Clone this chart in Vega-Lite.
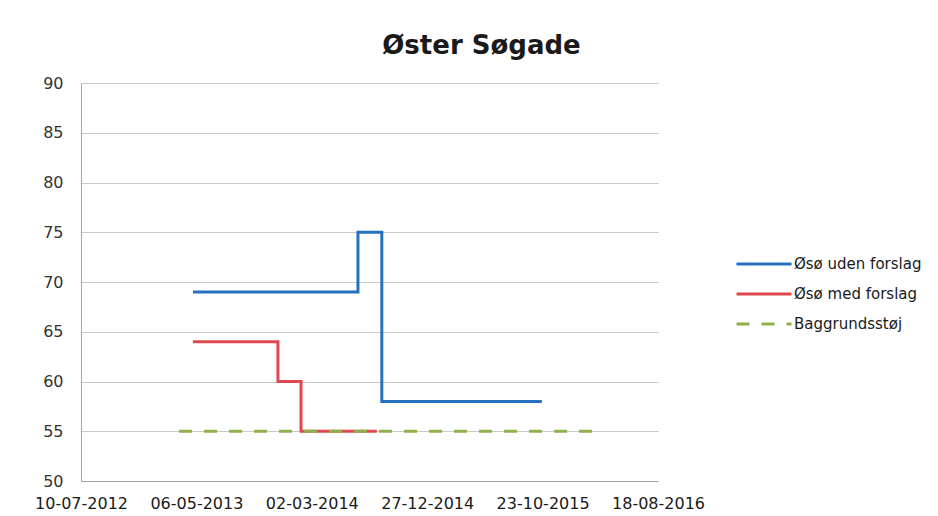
{
  "$schema": "https://vega.github.io/schema/vega-lite/v6.json",
  "autosize": {"type": "none"},
  "width": 577,
  "height": 398,
  "padding": {"left": 81, "top": 83, "right": 280, "bottom": 35},
  "background": "white",
  "title": {
    "text": "Øster Søgade",
    "font": "DejaVu Sans",
    "fontSize": 26,
    "fontWeight": "bold",
    "color": "#1a1a1a",
    "anchor": "middle",
    "dx": 112,
    "baseline": "alphabetic",
    "offset": -5
  },
  "config": {
    "view": {"stroke": null},
    "font": "DejaVu Sans"
  },
  "data": {
    "values": [
      {"series": "Øsø uden forslag", "date": "2013-04-27", "value": 69},
      {"series": "Øsø uden forslag", "date": "2014-06-30", "value": 75},
      {"series": "Øsø uden forslag", "date": "2014-08-31", "value": 58},
      {"series": "Øsø uden forslag", "date": "2015-10-21", "value": 58},
      {"series": "Øsø med forslag", "date": "2013-04-27", "value": 64},
      {"series": "Øsø med forslag", "date": "2013-12-04", "value": 60},
      {"series": "Øsø med forslag", "date": "2014-02-02", "value": 55},
      {"series": "Øsø med forslag", "date": "2014-08-18", "value": 55},
      {"series": "Baggrundsstøj", "date": "2013-03-22", "value": 55},
      {"series": "Baggrundsstøj", "date": "2016-03-02", "value": 55}
    ]
  },
  "mark": {"type": "line", "interpolate": "step-after", "strokeWidth": 3, "clip": true},
  "encoding": {
    "x": {
      "field": "date",
      "type": "temporal",
      "scale": {
        "type": "utc",
        "domain": [
          {"year": 2012, "month": 7, "date": 10, "utc": true},
          {"year": 2016, "month": 8, "date": 18, "utc": true}
        ],
        "nice": false
      },
      "axis": {
        "title": null,
        "values": [
          {"year": 2012, "month": 7, "date": 10, "utc": true},
          {"year": 2013, "month": 5, "date": 6, "utc": true},
          {"year": 2014, "month": 3, "date": 2, "utc": true},
          {"year": 2014, "month": 12, "date": 27, "utc": true},
          {"year": 2015, "month": 10, "date": 23, "utc": true},
          {"year": 2016, "month": 8, "date": 18, "utc": true}
        ],
        "labelExpr": "utcFormat(datum.value, '%d-%m-%Y')",
        "grid": false,
        "ticks": false,
        "domainColor": "#a6a6a6",
        "domainWidth": 1,
        "labelFont": "DejaVu Sans",
        "labelFontSize": 16,
        "labelColor": "#1a1a1a",
        "labelPadding": 14,
        "labelOverlap": false,
        "labelFlush": false
      }
    },
    "y": {
      "field": "value",
      "type": "quantitative",
      "scale": {"domain": [50, 90], "nice": false, "zero": false},
      "axis": {
        "title": null,
        "values": [50, 55, 60, 65, 70, 75, 80, 85, 90],
        "grid": true,
        "gridColor": "#c8c8c8",
        "gridWidth": 1,
        "ticks": false,
        "domainColor": "#a6a6a6",
        "labelFont": "DejaVu Sans",
        "labelFontSize": 16,
        "labelColor": "#333333",
        "labelPadding": 18
      }
    },
    "color": {
      "field": "series",
      "type": "nominal",
      "scale": {
        "domain": ["Øsø uden forslag", "Øsø med forslag", "Baggrundsstøj"],
        "range": ["#2471c0", "#e0474f", "#8fb04a"]
      },
      "legend": {
        "title": null,
        "orient": "none",
        "legendX": 654,
        "legendY": 166,
        "symbolType": "stroke",
        "symbolSize": 3025,
        "symbolStrokeWidth": 3,
        "labelFont": "DejaVu Sans",
        "labelFontSize": 15,
        "labelColor": "#1a1a1a",
        "labelOffset": 1,
        "rowPadding": 0,
        "clipHeight": 30
      }
    },
    "strokeDash": {
      "field": "series",
      "type": "nominal",
      "scale": {
        "domain": ["Øsø uden forslag", "Øsø med forslag", "Baggrundsstøj"],
        "range": [[1, 0], [1, 0], [13, 12]]
      },
      "legend": {
        "title": null,
        "orient": "none",
        "legendX": 654,
        "legendY": 166,
        "symbolType": "stroke",
        "symbolSize": 3025,
        "symbolStrokeWidth": 3,
        "labelFont": "DejaVu Sans",
        "labelFontSize": 15,
        "labelColor": "#1a1a1a",
        "labelOffset": 1,
        "rowPadding": 0,
        "clipHeight": 30
      }
    }
  }
}
